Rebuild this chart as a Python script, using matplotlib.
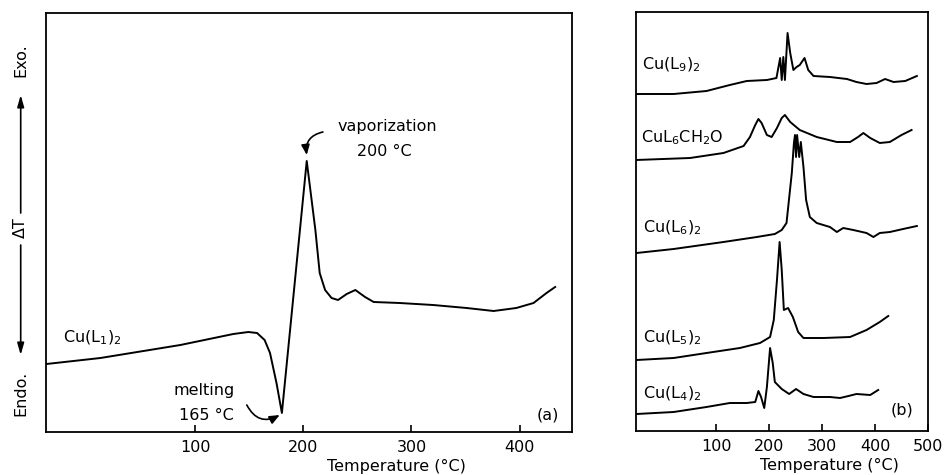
import matplotlib
matplotlib.use("Agg")
import matplotlib.pyplot as plt

# ---------------- data (panel a) ----------------
temp_a = [-38, 12, 86, 135, 149, 157, 164, 169, 175, 180, 203, 211, 215, 220, 226,
          232, 240, 248, 257, 265, 289, 320, 351, 376, 397, 413, 425, 433]
dt_a = [68, 74, 87, 98, 100, 99, 92, 79, 49, 19, 271, 202, 159, 142, 134,
        132, 138, 142, 135, 130, 129, 127, 124, 121, 124, 129, 139, 145]

# ---------------- data (panel b) ----------------
temp_l9 = [-51, 20, 82, 126, 158, 196, 214, 221, 224, 227, 230, 235, 240, 246, 252,
           258, 267, 274, 284, 315, 347, 365, 384, 403, 419, 435, 457, 479]
dt_l9 = [337, 337, 340, 346, 350, 351, 353, 373, 351, 374, 351, 398, 378, 361, 364,
         366, 373, 361, 355, 354, 352, 349, 347, 348, 352, 349, 350, 355]

temp_l6h = [-51, 51, 114, 152, 164, 174, 180, 186, 196, 205, 215, 224, 230, 240, 258,
            290, 328, 353, 368, 378, 391, 409, 428, 450, 469]
dt_l6h = [271, 273, 278, 285, 294, 306, 312, 308, 296, 294, 303, 313, 316, 309, 301,
          294, 289, 289, 294, 298, 293, 288, 289, 296, 301]

temp_l6 = [-50, 20, 114, 177, 211, 224, 233, 243, 247, 249, 251, 253, 257, 260, 265,
           270, 277, 290, 315, 328, 340, 359, 384, 397, 409, 428, 453, 479]
dt_l6 = [178, 182, 189, 194, 197, 201, 208, 258, 288, 296, 274, 296, 274, 289, 264,
         231, 214, 208, 204, 199, 203, 201, 198, 194, 198, 199, 202, 205]

temp_l5 = [-50, 20, 82, 145, 183, 202, 209, 215, 220, 224, 228, 236, 245, 255, 265,
           303, 353, 384, 409, 425]
dt_l5 = [71, 73, 78, 83, 88, 94, 111, 151, 189, 161, 121, 123, 114, 99, 93,
         93, 94, 101, 109, 115]

temp_l4 = [-50, 20, 82, 126, 158, 174, 180, 185, 191, 196, 202, 207, 211, 224, 238,
           251, 265, 284, 315, 334, 350, 365, 391, 406]
dt_l4 = [17, 19, 24, 28, 28, 29, 40, 34, 23, 44, 83, 68, 49, 42, 37,
         42, 37, 34, 34, 33, 35, 37, 36, 41]

ticks_a = [100, 200, 300, 400]
ticks_b = [100, 200, 300, 400, 500]
labels_b = ["Cu(L$_9$)$_2$", "CuL$_6$CH$_2$O", "Cu(L$_6$)$_2$",
            "Cu(L$_5$)$_2$", "Cu(L$_4$)$_2$"]

# ---------------- figure ----------------
plt.rcParams['font.family'] = ['DejaVu Sans']
plt.rcParams['mathtext.fontset'] = 'dejavusans'
FS = 11.5
W, H = 950, 475
fig = plt.figure(figsize=(9.5, 4.75), dpi=100)

def axrect(l, r, t, b):
    return [l / W, 1 - b / H, (r - l) / W, (b - t) / H]

axa = fig.add_axes(axrect(46, 572, 12.5, 432))
axb = fig.add_axes(axrect(636, 928, 11.5, 431))

lw = 1.4
for ax in (axa, axb):
    for s in ax.spines.values():
        s.set_linewidth(1.3)
    ax.set_yticks([])
    ax.tick_params(axis='x', direction='in', length=5, width=1.2,
                   labelsize=FS, pad=6, top=False)

# panel a
axa.plot(temp_a, dt_a, color='black', lw=lw)
axa.set_xlim(-38.4, 448.6)
axa.set_ylim(0, 419.5)
axa.set_xticks(ticks_a)
axa.text(-22.7, 90, "Cu(L$_1$)$_2$", fontsize=FS, ha='left', va='baseline')
axa.text(108, 41, "melting", fontsize=FS, ha='center', va='center')
axa.text(110, 17, "165 °C", fontsize=FS, ha='center', va='center')
axa.annotate("", xy=(178, 17), xytext=(147.5, 27),
             arrowprops=dict(arrowstyle='-|>,head_length=0.6,head_width=0.25',
                             color='black', lw=1.2,
                             connectionstyle='arc3,rad=0.5',
                             shrinkA=0, shrinkB=0))
axa.text(278, 305, "vaporization", fontsize=FS, ha='center', va='center')
axa.text(274.5, 281, "200 °C", fontsize=FS, ha='center', va='center')
axa.annotate("", xy=(203, 277), xytext=(218, 300),
             arrowprops=dict(arrowstyle='-|>,head_length=0.6,head_width=0.25',
                             color='black', lw=1.2,
                             connectionstyle='arc3,rad=0.45',
                             shrinkA=0, shrinkB=0))
axa.text(426.5, 17, "(a)", fontsize=FS, ha='center', va='center')
axa.text(0.667, -0.083, "Temperature (°C)", transform=axa.transAxes,
         fontsize=FS, ha='center', va='center')

# panel b
series_b = [(temp_l9, dt_l9), (temp_l6h, dt_l6h), (temp_l6, dt_l6),
            (temp_l5, dt_l5), (temp_l4, dt_l4)]
label_pos = [(-39.6, 362), (-41.5, 289), (-37.7, 199), (-37.7, 89), (-37.7, 33)]
for (tx, ty), lab, (lx, ly) in zip(series_b, labels_b, label_pos):
    axb.plot(tx, ty, color='black', lw=lw)
    axb.text(lx, ly, lab, fontsize=FS, ha='left', va='baseline')
axb.set_xlim(-51, 500)
axb.set_ylim(0, 419.5)
axb.set_xticks(ticks_b)
axb.text(451, 21, "(b)", fontsize=FS, ha='center', va='center')
axb.text(0.664, -0.083, "Temperature (°C)", transform=axb.transAxes,
         fontsize=FS, ha='center', va='center')

# y-axis legend: Endo. <- dT -> Exo.
xf = 20.7 / W
fig.text(xf, 1 - 60 / H, "Exo.", rotation=90, fontsize=FS, ha='center', va='center')
fig.text(xf, 1 - 228 / H, "ΔT", rotation=90, fontsize=FS, ha='center', va='center')
fig.text(xf, 1 - 393 / H, "Endo.", rotation=90, fontsize=FS, ha='center', va='center')
arr = dict(arrowstyle='-|>,head_length=0.7,head_width=0.2', color='black', lw=1.2,
           shrinkA=0, shrinkB=0)
fig.add_artist(matplotlib.patches.FancyArrowPatch(
    (xf, 1 - 213 / H), (xf, 1 - 95 / H), transform=fig.transFigure,
    mutation_scale=10, **arr))
fig.add_artist(matplotlib.patches.FancyArrowPatch(
    (xf, 1 - 245 / H), (xf, 1 - 355 / H), transform=fig.transFigure,
    mutation_scale=10, **arr))

fig.savefig("out.png", dpi=100)
